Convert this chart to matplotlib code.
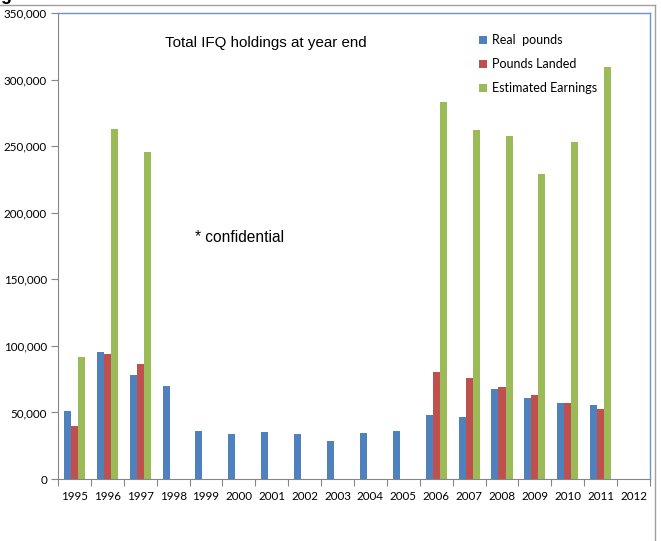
import matplotlib
matplotlib.use("Agg")
import matplotlib.pyplot as plt
import numpy as np
from matplotlib.lines import Line2D
from matplotlib.ticker import FuncFormatter, MultipleLocator

years = ["1995", "1996", "1997", "1998", "1999", "2000", "2001", "2002", "2003",
         "2004", "2005", "2006", "2007", "2008", "2009", "2010", "2011", "2012"]
real_pounds = [51000, 95500, 78000, 70000, 36000, 34000, 35000, 33500, 28500,
               34500, 36000, 48000, 46500, 67600, 61000, 57000, 55500, 0]
pounds_landed = [40000, 94000, 86000, 0, 0, 0, 0, 0, 0,
                 0, 0, 80000, 76000, 69000, 63000, 57000, 52600, 0]
est_earnings = [92000, 263000, 245700, 0, 0, 0, 0, 0, 0,
                0, 0, 283000, 262000, 257700, 229000, 253000, 309500, 0]

fig = plt.figure(figsize=(6.61, 5.41), dpi=100)
ax = fig.add_axes([58/661, 62/541, (650-58)/661, (479-13)/541])

x = np.arange(len(years))
w = 0.215
ax.bar(x - w, real_pounds, w, color="#4F81BD", label="Real  pounds")
ax.bar(x, pounds_landed, w, color="#C0504D", label="Pounds Landed")
ax.bar(x + w, est_earnings, w, color="#9BBB59", label="Estimated Earnings")

ax.set_xlim(-0.5, len(years) - 0.5)
ax.set_ylim(0, 350000)
ax.yaxis.set_major_locator(MultipleLocator(50000))
ax.yaxis.set_major_formatter(FuncFormatter(lambda v, p: f"{int(v):,}"))

ax.set_xticks(x)
ax.set_xticklabels(years)
ax.set_xticks(np.arange(-0.5, len(years)), minor=True)
ax.tick_params(axis="x", which="major", length=0, pad=9)
ax.tick_params(axis="x", which="minor", length=5, color="#868686", width=0.8)
ax.tick_params(axis="y", length=5, color="#868686", width=0.8, pad=3)
for lab in ax.get_xticklabels() + ax.get_yticklabels():
    lab.set_fontfamily("Lato")
    lab.set_fontsize(8.4)
    lab.set_color("#000000")

for s in ["left", "bottom"]:
    ax.spines[s].set_color("#868686")
    ax.spines[s].set_linewidth(0.8)
for s in ["top", "right"]:
    ax.spines[s].set_color("#6A93CF")
    ax.spines[s].set_linewidth(1.0)

fig.text(165/661, 1 - 43/541, "Total IFQ holdings at year end", fontsize=10.9,
         family="Liberation Sans", va="center", ha="left")
fig.text(195/661, 1 - 237/541, "* confidential", fontsize=11.2,
         family="Liberation Sans", va="center", ha="left")

leg = ax.legend(loc="upper left", bbox_to_anchor=(468/661, 1 - 23/541),
                bbox_transform=fig.transFigure, frameon=False,
                handlelength=0.6, handleheight=0.6, handletextpad=0.45,
                labelspacing=0.95, prop={"family": "Lato", "size": 9})

# outer frame lines from the screenshot
fig.add_artist(Line2D([0, 655/661], [1 - 5/541, 1 - 5/541], color="#A0A0A0", lw=1.0,
                      transform=fig.transFigure))
fig.add_artist(Line2D([655/661, 655/661], [0, 1 - 5/541], color="#A0A0A0", lw=1.0,
                      transform=fig.transFigure))
fig.text(0.0, 1 - 0.5/541, "g", fontsize=13, fontweight="bold", va="baseline",
         ha="left", family="Liberation Sans")

fig.savefig("out.png", dpi=100)
